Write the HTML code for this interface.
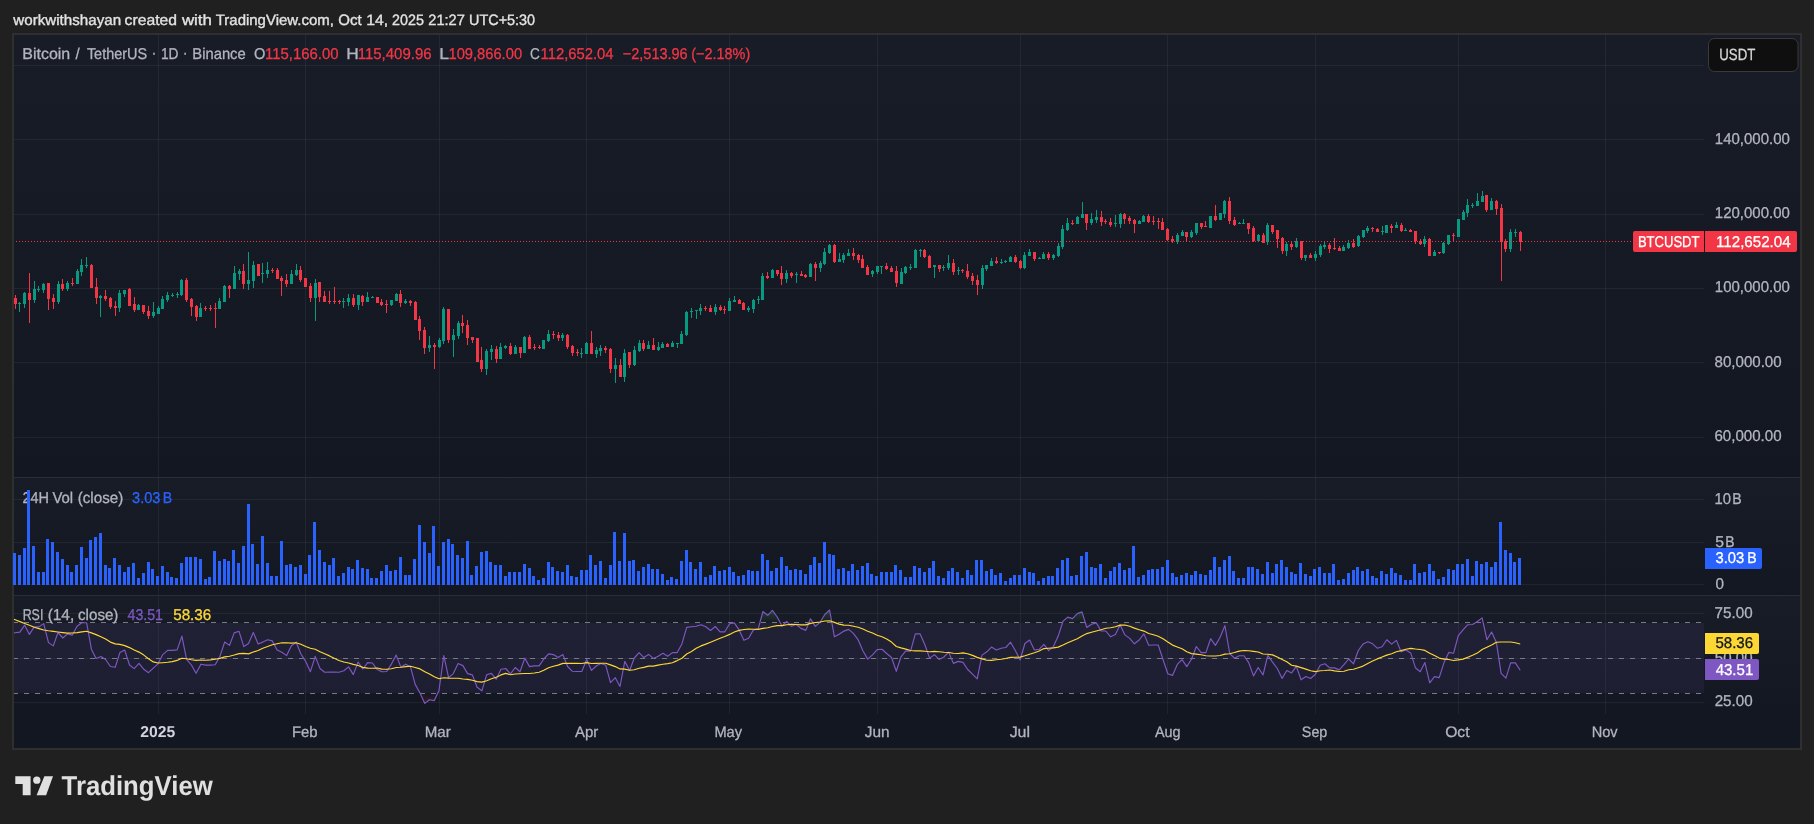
<!DOCTYPE html>
<html><head><meta charset="utf-8"><title>BTCUSDT chart</title>
<style>
html,body{margin:0;padding:0;background:#202020;width:1814px;height:824px;overflow:hidden}
svg{display:block;will-change:transform;text-rendering:geometricPrecision}
text{font-family:'Liberation Sans', sans-serif;}
</style></head><body>
<svg width="1814" height="824" viewBox="0 0 1814 824" shape-rendering="crispEdges">
<defs><linearGradient id="pg" x1="0" y1="0" x2="0" y2="1"><stop offset="0" stop-color="#181c27"/><stop offset="1" stop-color="#131722"/></linearGradient><linearGradient id="obg" gradientUnits="userSpaceOnUse" x1="0" y1="569.90" x2="0" y2="623.00"><stop offset="0" stop-color="#4caf50" stop-opacity="1"/><stop offset="1" stop-color="#4caf50" stop-opacity="0"/></linearGradient><linearGradient id="osg" gradientUnits="userSpaceOnUse" x1="0" y1="693.80" x2="0" y2="746.90"><stop offset="0" stop-color="#f23645" stop-opacity="0"/><stop offset="1" stop-color="#f23645" stop-opacity="1"/></linearGradient><clipPath id="obc"><rect x="0" y="0" width="1814" height="623.00"/></clipPath><clipPath id="osc"><rect x="0" y="693.80" width="1814" height="200"/></clipPath><clipPath id="rc"><rect x="14" y="596" width="1690" height="118"/></clipPath></defs>
<rect x="0" y="0" width="1814" height="824" fill="#202020"/>
<rect x="12" y="33" width="1790" height="717" fill="#2f2f2f"/>
<rect x="14" y="35" width="1786" height="713" fill="#131722"/>
<rect x="14" y="35" width="1786" height="442" fill="url(#pg)"/>
<rect x="14" y="478" width="1786" height="117" fill="url(#pg)"/>
<rect x="14" y="596" width="1786" height="118" fill="url(#pg)"/>
<rect x="14" y="477" width="1786" height="1" fill="#2a2e39"/>
<rect x="14" y="595" width="1786" height="1" fill="#2a2e39"/>
<rect x="14" y="65" width="1690" height="1" fill="rgba(240,243,250,0.06)"/>
<rect x="14" y="139" width="1690" height="1" fill="rgba(240,243,250,0.06)"/>
<rect x="14" y="214" width="1690" height="1" fill="rgba(240,243,250,0.06)"/>
<rect x="14" y="288" width="1690" height="1" fill="rgba(240,243,250,0.06)"/>
<rect x="14" y="362" width="1690" height="1" fill="rgba(240,243,250,0.06)"/>
<rect x="14" y="437" width="1690" height="1" fill="rgba(240,243,250,0.06)"/>
<rect x="14" y="499" width="1690" height="1" fill="rgba(240,243,250,0.06)"/>
<rect x="14" y="542" width="1690" height="1" fill="rgba(240,243,250,0.06)"/>
<rect x="14" y="584" width="1690" height="1" fill="rgba(240,243,250,0.06)"/>
<rect x="14" y="613" width="1690" height="1" fill="rgba(240,243,250,0.06)"/>
<rect x="14" y="658" width="1690" height="1" fill="rgba(240,243,250,0.06)"/>
<rect x="14" y="702" width="1690" height="1" fill="rgba(240,243,250,0.06)"/>
<rect x="158" y="35" width="1" height="442" fill="rgba(240,243,250,0.06)"/>
<rect x="158" y="478" width="1" height="117" fill="rgba(240,243,250,0.06)"/>
<rect x="158" y="596" width="1" height="118" fill="rgba(240,243,250,0.06)"/>
<rect x="305" y="35" width="1" height="442" fill="rgba(240,243,250,0.06)"/>
<rect x="305" y="478" width="1" height="117" fill="rgba(240,243,250,0.06)"/>
<rect x="305" y="596" width="1" height="118" fill="rgba(240,243,250,0.06)"/>
<rect x="439" y="35" width="1" height="442" fill="rgba(240,243,250,0.06)"/>
<rect x="439" y="478" width="1" height="117" fill="rgba(240,243,250,0.06)"/>
<rect x="439" y="596" width="1" height="118" fill="rgba(240,243,250,0.06)"/>
<rect x="586" y="35" width="1" height="442" fill="rgba(240,243,250,0.06)"/>
<rect x="586" y="478" width="1" height="117" fill="rgba(240,243,250,0.06)"/>
<rect x="586" y="596" width="1" height="118" fill="rgba(240,243,250,0.06)"/>
<rect x="729" y="35" width="1" height="442" fill="rgba(240,243,250,0.06)"/>
<rect x="729" y="478" width="1" height="117" fill="rgba(240,243,250,0.06)"/>
<rect x="729" y="596" width="1" height="118" fill="rgba(240,243,250,0.06)"/>
<rect x="877" y="35" width="1" height="442" fill="rgba(240,243,250,0.06)"/>
<rect x="877" y="478" width="1" height="117" fill="rgba(240,243,250,0.06)"/>
<rect x="877" y="596" width="1" height="118" fill="rgba(240,243,250,0.06)"/>
<rect x="1020" y="35" width="1" height="442" fill="rgba(240,243,250,0.06)"/>
<rect x="1020" y="478" width="1" height="117" fill="rgba(240,243,250,0.06)"/>
<rect x="1020" y="596" width="1" height="118" fill="rgba(240,243,250,0.06)"/>
<rect x="1167" y="35" width="1" height="442" fill="rgba(240,243,250,0.06)"/>
<rect x="1167" y="478" width="1" height="117" fill="rgba(240,243,250,0.06)"/>
<rect x="1167" y="596" width="1" height="118" fill="rgba(240,243,250,0.06)"/>
<rect x="1315" y="35" width="1" height="442" fill="rgba(240,243,250,0.06)"/>
<rect x="1315" y="478" width="1" height="117" fill="rgba(240,243,250,0.06)"/>
<rect x="1315" y="596" width="1" height="118" fill="rgba(240,243,250,0.06)"/>
<rect x="1458" y="35" width="1" height="442" fill="rgba(240,243,250,0.06)"/>
<rect x="1458" y="478" width="1" height="117" fill="rgba(240,243,250,0.06)"/>
<rect x="1458" y="596" width="1" height="118" fill="rgba(240,243,250,0.06)"/>
<rect x="1605" y="35" width="1" height="442" fill="rgba(240,243,250,0.06)"/>
<rect x="1605" y="478" width="1" height="117" fill="rgba(240,243,250,0.06)"/>
<rect x="1605" y="596" width="1" height="118" fill="rgba(240,243,250,0.06)"/>
<rect x="14" y="622.6" width="1690" height="70.8" fill="rgba(126,87,194,0.1)"/>
<line x1="14" y1="622.5" x2="1704" y2="622.5" stroke="#787b86" stroke-width="1" stroke-dasharray="5 6" stroke-dashoffset="1"/>
<line x1="14" y1="658.5" x2="1704" y2="658.5" stroke="#787b86" stroke-width="1" stroke-dasharray="5 6" stroke-dashoffset="1"/>
<line x1="14" y1="693.5" x2="1704" y2="693.5" stroke="#787b86" stroke-width="1" stroke-dasharray="5 6" stroke-dashoffset="1"/>
<path d="M19,302h1v10h-1z M18,303h3v1h-3z M24,292h1v16h-1z M23,293h3v11h-3z M34,281h1v22h-1z M33,289h3v11h-3z M38,286h1v6h-1z M37,289h3v1h-3z M43,283h1v10h-1z M42,284h3v6h-3z M58,281h1v23h-1z M57,284h3v18h-3z M67,281h1v10h-1z M66,283h3v6h-3z M77,269h1v15h-1z M76,271h3v13h-3z M81,259h1v17h-1z M80,265h3v7h-3z M86,257h1v11h-1z M85,265h3v1h-3z M100,295h1v22h-1z M99,296h3v2h-3z M119,290h1v22h-1z M118,293h3v15h-3z M124,290h1v7h-1z M123,290h3v4h-3z M138,304h1v6h-1z M137,305h3v5h-3z M153,302h1v16h-1z M152,312h3v4h-3z M158,306h1v8h-1z M157,308h3v6h-3z M162,296h1v13h-1z M161,299h3v10h-3z M167,292h1v10h-1z M166,295h3v5h-3z M172,293h1v4h-1z M171,295h3v1h-3z M177,292h1v6h-1z M176,294h3v1h-3z M181,279h1v17h-1z M180,280h3v15h-3z M200,303h1v14h-1z M199,308h3v9h-3z M219,298h1v11h-1z M218,301h3v8h-3z M224,285h1v17h-1z M223,286h3v16h-3z M234,266h1v23h-1z M233,273h3v16h-3z M239,269h1v11h-1z M238,271h3v3h-3z M248,252h1v38h-1z M247,280h3v4h-3z M253,261h1v27h-1z M252,265h3v16h-3z M262,263h1v20h-1z M261,273h3v1h-3z M267,262h1v16h-1z M266,270h3v4h-3z M291,270h1v14h-1z M290,274h3v10h-3z M296,264h1v12h-1z M295,270h3v5h-3z M315,279h1v42h-1z M314,283h3v15h-3z M343,298h1v10h-1z M342,301h3v1h-3z M348,294h1v12h-1z M347,298h3v4h-3z M358,295h1v15h-1z M357,295h3v10h-3z M367,292h1v10h-1z M366,297h3v5h-3z M372,296h1v2h-1z M371,297h3v1h-3z M391,300h1v6h-1z M390,300h3v5h-3z M396,293h1v8h-1z M395,294h3v7h-3z M405,299h1v5h-1z M404,301h3v2h-3z M429,336h1v16h-1z M428,345h3v3h-3z M439,338h1v10h-1z M438,340h3v7h-3z M443,307h1v37h-1z M442,309h3v32h-3z M453,329h1v28h-1z M452,335h3v5h-3z M458,321h1v18h-1z M457,323h3v13h-3z M486,349h1v26h-1z M485,351h3v18h-3z M491,345h1v15h-1z M490,349h3v3h-3z M500,343h1v16h-1z M499,347h3v12h-3z M505,345h1v4h-1z M504,346h3v2h-3z M515,345h1v9h-1z M514,347h3v7h-3z M524,336h1v17h-1z M523,337h3v16h-3z M543,340h1v9h-1z M542,340h3v9h-3z M548,330h1v12h-1z M547,334h3v7h-3z M562,333h1v8h-1z M561,335h3v3h-3z M581,348h1v10h-1z M580,353h3v1h-3z M586,342h1v12h-1z M585,343h3v11h-3z M596,347h1v11h-1z M595,350h3v4h-3z M600,345h1v11h-1z M599,348h3v3h-3z M615,358h1v25h-1z M614,365h3v4h-3z M624,349h1v33h-1z M623,353h3v24h-3z M634,346h1v20h-1z M633,350h3v15h-3z M639,340h1v12h-1z M638,343h3v8h-3z M648,341h1v8h-1z M647,345h3v4h-3z M658,342h1v9h-1z M657,347h3v3h-3z M662,342h1v6h-1z M661,344h3v4h-3z M672,341h1v6h-1z M671,343h3v4h-3z M677,343h1v5h-1z M676,343h3v1h-3z M681,331h1v13h-1z M680,334h3v10h-3z M686,311h1v25h-1z M685,312h3v23h-3z M691,308h1v10h-1z M690,311h3v1h-3z M696,310h1v9h-1z M695,310h3v1h-3z M700,304h1v11h-1z M699,308h3v3h-3z M715,304h1v11h-1z M714,307h3v5h-3z M729,298h1v13h-1z M728,301h3v10h-3z M734,296h1v6h-1z M733,300h3v2h-3z M748,306h1v6h-1z M747,308h3v2h-3z M753,299h1v14h-1z M752,300h3v9h-3z M758,296h1v8h-1z M757,299h3v1h-3z M762,273h1v27h-1z M761,276h3v24h-3z M772,269h1v9h-1z M771,270h3v8h-3z M786,270h1v13h-1z M785,273h3v6h-3z M796,272h1v11h-1z M795,274h3v1h-3z M810,263h1v14h-1z M809,264h3v13h-3z M820,261h1v11h-1z M819,263h3v5h-3z M824,248h1v17h-1z M823,252h3v12h-3z M829,244h1v10h-1z M828,245h3v8h-3z M839,253h1v9h-1z M838,259h3v3h-3z M843,253h1v10h-1z M842,255h3v5h-3z M848,249h1v7h-1z M847,253h3v3h-3z M872,270h1v7h-1z M871,271h3v3h-3z M877,266h1v8h-1z M876,266h3v6h-3z M881,266h1v8h-1z M880,266h3v1h-3z M901,268h1v16h-1z M900,272h3v12h-3z M905,266h1v8h-1z M904,267h3v6h-3z M910,264h1v6h-1z M909,267h3v1h-3z M915,249h1v19h-1z M914,250h3v18h-3z M920,249h1v8h-1z M919,250h3v1h-3z M934,265h1v13h-1z M933,265h3v2h-3z M943,265h1v6h-1z M942,267h3v1h-3z M948,255h1v15h-1z M947,263h3v5h-3z M958,267h1v8h-1z M957,270h3v1h-3z M982,265h1v24h-1z M981,268h3v17h-3z M986,265h1v6h-1z M985,265h3v4h-3z M991,258h1v8h-1z M990,261h3v5h-3z M1001,259h1v5h-1z M1000,262h3v1h-3z M1005,260h1v3h-1z M1004,261h3v1h-3z M1010,256h1v6h-1z M1009,257h3v5h-3z M1024,252h1v17h-1z M1023,255h3v13h-3z M1029,249h1v7h-1z M1028,252h3v4h-3z M1039,257h1v2h-1z M1038,258h3v1h-3z M1043,252h1v7h-1z M1042,254h3v5h-3z M1053,254h1v6h-1z M1052,255h3v3h-3z M1058,243h1v14h-1z M1057,246h3v10h-3z M1062,225h1v24h-1z M1061,229h3v18h-3z M1067,218h1v13h-1z M1066,223h3v7h-3z M1077,216h1v8h-1z M1076,217h3v7h-3z M1082,202h1v16h-1z M1081,214h3v4h-3z M1091,213h1v12h-1z M1090,219h3v4h-3z M1096,210h1v13h-1z M1095,217h3v3h-3z M1115,215h1v12h-1z M1114,223h3v1h-3z M1120,213h1v15h-1z M1119,214h3v10h-3z M1139,220h1v4h-1z M1138,221h3v3h-3z M1143,215h1v7h-1z M1142,216h3v6h-3z M1177,233h1v11h-1z M1176,235h3v7h-3z M1182,230h1v6h-1z M1181,232h3v4h-3z M1191,230h1v8h-1z M1190,232h3v5h-3z M1196,223h1v12h-1z M1195,223h3v10h-3z M1210,216h1v12h-1z M1209,216h3v12h-3z M1220,213h1v7h-1z M1219,213h3v7h-3z M1224,200h1v18h-1z M1223,201h3v13h-3z M1239,222h1v2h-1z M1238,223h3v1h-3z M1243,219h1v5h-1z M1242,223h3v1h-3z M1258,234h1v7h-1z M1257,235h3v6h-3z M1267,223h1v22h-1z M1266,225h3v17h-3z M1286,242h1v14h-1z M1285,244h3v7h-3z M1296,238h1v10h-1z M1295,241h3v6h-3z M1305,255h1v6h-1z M1304,255h3v3h-3z M1315,251h1v10h-1z M1314,254h3v4h-3z M1320,244h1v13h-1z M1319,246h3v9h-3z M1324,242h1v7h-1z M1323,245h3v2h-3z M1343,245h1v6h-1z M1342,247h3v4h-3z M1348,240h1v9h-1z M1347,243h3v5h-3z M1358,235h1v12h-1z M1357,236h3v10h-3z M1363,230h1v8h-1z M1362,230h3v7h-3z M1367,226h1v7h-1z M1366,228h3v3h-3z M1382,226h1v9h-1z M1381,231h3v1h-3z M1386,225h1v8h-1z M1385,225h3v8h-3z M1396,222h1v6h-1z M1395,225h3v3h-3z M1405,228h1v3h-1z M1404,230h3v1h-3z M1424,236h1v11h-1z M1423,239h3v5h-3z M1434,250h1v6h-1z M1433,252h3v4h-3z M1443,242h1v12h-1z M1442,243h3v10h-3z M1448,235h1v10h-1z M1447,235h3v9h-3z M1458,219h1v18h-1z M1457,219h3v18h-3z M1463,210h1v10h-1z M1462,212h3v8h-3z M1467,199h1v18h-1z M1466,205h3v8h-3z M1472,203h1v5h-1z M1471,205h3v1h-3z M1477,193h1v13h-1z M1476,201h3v5h-3z M1482,191h1v11h-1z M1481,196h3v6h-3z M1491,198h1v12h-1z M1490,201h3v9h-3z M1510,229h1v23h-1z M1509,232h3v17h-3z M1515,229h1v8h-1z M1514,232h3v1h-3z" fill="#089981"/>
<path d="M15,295h1v14h-1z M14,298h3v6h-3z M29,273h1v50h-1z M28,293h3v7h-3z M48,283h1v27h-1z M47,283h3v16h-3z M53,294h1v15h-1z M52,298h3v4h-3z M62,279h1v12h-1z M61,284h3v5h-3z M72,278h1v8h-1z M71,283h3v1h-3z M91,264h1v24h-1z M90,265h3v23h-3z M96,278h1v26h-1z M95,287h3v11h-3z M105,290h1v11h-1z M104,296h3v3h-3z M110,297h1v12h-1z M109,298h3v9h-3z M115,301h1v15h-1z M114,306h3v2h-3z M129,288h1v18h-1z M128,289h3v17h-3z M134,297h1v15h-1z M133,304h3v6h-3z M143,305h1v9h-1z M142,305h3v7h-3z M148,306h1v13h-1z M147,311h3v5h-3z M186,278h1v24h-1z M185,280h3v20h-3z M191,298h1v18h-1z M190,299h3v8h-3z M196,305h1v16h-1z M195,306h3v11h-3z M205,306h1v5h-1z M204,308h3v1h-3z M210,305h1v6h-1z M209,308h3v1h-3z M215,303h1v25h-1z M214,308h3v1h-3z M229,285h1v13h-1z M228,286h3v3h-3z M243,264h1v25h-1z M242,271h3v13h-3z M258,264h1v12h-1z M257,264h3v12h-3z M272,268h1v5h-1z M271,270h3v1h-3z M277,268h1v11h-1z M276,270h3v9h-3z M281,276h1v20h-1z M280,278h3v3h-3z M286,274h1v13h-1z M285,280h3v4h-3z M300,266h1v16h-1z M299,270h3v10h-3z M305,278h1v9h-1z M304,278h3v9h-3z M310,283h1v19h-1z M309,286h3v12h-3z M319,282h1v20h-1z M318,282h3v15h-3z M324,291h1v11h-1z M323,296h3v6h-3z M329,291h1v13h-1z M328,301h3v1h-3z M334,287h1v17h-1z M333,301h3v1h-3z M339,300h1v4h-1z M338,301h3v1h-3z M353,294h1v13h-1z M352,298h3v7h-3z M362,295h1v11h-1z M361,296h3v6h-3z M377,297h1v6h-1z M376,297h3v6h-3z M381,299h1v7h-1z M380,302h3v3h-3z M386,300h1v13h-1z M385,304h3v1h-3z M400,290h1v17h-1z M399,294h3v9h-3z M410,300h1v6h-1z M409,301h3v2h-3z M415,301h1v19h-1z M414,302h3v18h-3z M419,316h1v24h-1z M418,319h3v12h-3z M424,327h1v27h-1z M423,330h3v18h-3z M434,343h1v26h-1z M433,345h3v2h-3z M448,309h1v34h-1z M447,309h3v31h-3z M462,315h1v18h-1z M461,323h3v3h-3z M467,320h1v25h-1z M466,325h3v13h-3z M472,337h1v6h-1z M471,337h3v3h-3z M477,338h1v24h-1z M476,338h3v24h-3z M481,347h1v25h-1z M480,360h3v9h-3z M496,346h1v17h-1z M495,349h3v10h-3z M510,343h1v12h-1z M509,346h3v8h-3z M520,347h1v11h-1z M519,347h3v6h-3z M529,335h1v14h-1z M528,337h3v12h-3z M534,344h1v6h-1z M533,347h3v1h-3z M539,345h1v4h-1z M538,347h3v1h-3z M553,331h1v8h-1z M552,334h3v1h-3z M558,332h1v9h-1z M557,335h3v3h-3z M567,334h1v15h-1z M566,335h3v12h-3z M572,345h1v11h-1z M571,346h3v7h-3z M577,349h1v7h-1z M576,352h3v1h-3z M591,331h1v23h-1z M590,343h3v11h-3z M605,346h1v7h-1z M604,348h3v2h-3z M610,348h1v25h-1z M609,349h3v20h-3z M620,359h1v18h-1z M619,365h3v12h-3z M629,352h1v16h-1z M628,352h3v13h-3z M643,340h1v11h-1z M642,343h3v6h-3z M653,338h1v12h-1z M652,345h3v5h-3z M667,343h1v4h-1z M666,344h3v3h-3z M705,306h1v5h-1z M704,308h3v1h-3z M710,305h1v7h-1z M709,308h3v4h-3z M720,305h1v6h-1z M719,307h3v3h-3z M724,306h1v8h-1z M723,309h3v1h-3z M739,299h1v5h-1z M738,300h3v4h-3z M743,302h1v8h-1z M742,303h3v7h-3z M767,272h1v7h-1z M766,276h3v2h-3z M777,270h1v6h-1z M776,270h3v4h-3z M781,266h1v19h-1z M780,273h3v6h-3z M791,272h1v6h-1z M790,273h3v3h-3z M801,271h1v5h-1z M800,274h3v2h-3z M805,274h1v4h-1z M804,275h3v2h-3z M815,262h1v19h-1z M814,264h3v4h-3z M834,244h1v19h-1z M833,245h3v17h-3z M853,248h1v12h-1z M852,253h3v3h-3z M858,254h1v9h-1z M857,255h3v5h-3z M862,255h1v13h-1z M861,259h3v9h-3z M867,265h1v10h-1z M866,267h3v8h-3z M886,263h1v7h-1z M885,266h3v3h-3z M891,266h1v6h-1z M890,268h3v4h-3z M896,266h1v21h-1z M895,271h3v12h-3z M924,249h1v9h-1z M923,250h3v7h-3z M929,255h1v13h-1z M928,256h3v12h-3z M939,265h1v7h-1z M938,265h3v4h-3z M953,259h1v16h-1z M952,263h3v9h-3z M962,269h1v4h-1z M961,270h3v1h-3z M967,264h1v15h-1z M966,271h3v6h-3z M972,273h1v12h-1z M971,276h3v5h-3z M977,275h1v20h-1z M976,280h3v5h-3z M996,257h1v7h-1z M995,261h3v2h-3z M1015,255h1v8h-1z M1014,257h3v5h-3z M1020,260h1v9h-1z M1019,261h3v7h-3z M1034,252h1v9h-1z M1033,252h3v7h-3z M1048,252h1v8h-1z M1047,254h3v4h-3z M1072,220h1v5h-1z M1071,223h3v1h-3z M1086,214h1v16h-1z M1085,214h3v9h-3z M1101,211h1v15h-1z M1100,217h3v5h-3z M1105,219h1v5h-1z M1104,221h3v1h-3z M1110,218h1v9h-1z M1109,222h3v3h-3z M1124,213h1v11h-1z M1123,214h3v5h-3z M1129,216h1v8h-1z M1128,218h3v3h-3z M1134,219h1v14h-1z M1133,220h3v4h-3z M1148,214h1v9h-1z M1147,216h3v6h-3z M1153,216h1v9h-1z M1152,221h3v1h-3z M1158,218h1v11h-1z M1157,221h3v1h-3z M1162,218h1v12h-1z M1161,222h3v8h-3z M1167,228h1v13h-1z M1166,229h3v11h-3z M1172,236h1v7h-1z M1171,239h3v2h-3z M1186,232h1v10h-1z M1185,232h3v5h-3z M1201,223h1v6h-1z M1200,223h3v4h-3z M1205,221h1v6h-1z M1204,226h3v1h-3z M1215,205h1v16h-1z M1214,216h3v4h-3z M1229,197h1v27h-1z M1228,201h3v20h-3z M1234,217h1v9h-1z M1233,220h3v5h-3z M1248,223h1v11h-1z M1247,223h3v6h-3z M1253,226h1v16h-1z M1252,228h3v13h-3z M1263,233h1v10h-1z M1262,235h3v8h-3z M1272,225h1v9h-1z M1271,225h3v7h-3z M1277,230h1v18h-1z M1276,230h3v9h-3z M1282,237h1v17h-1z M1281,238h3v13h-3z M1291,241h1v9h-1z M1290,244h3v3h-3z M1301,241h1v19h-1z M1300,241h3v17h-3z M1310,253h1v5h-1z M1309,255h3v3h-3z M1329,243h1v10h-1z M1328,245h3v4h-3z M1334,238h1v12h-1z M1333,248h3v1h-3z M1339,246h1v5h-1z M1338,248h3v3h-3z M1353,239h1v9h-1z M1352,243h3v4h-3z M1372,227h1v5h-1z M1371,228h3v1h-3z M1377,228h1v4h-1z M1376,229h3v3h-3z M1391,224h1v9h-1z M1390,226h3v2h-3z M1401,223h1v9h-1z M1400,225h3v6h-3z M1410,229h1v3h-1z M1409,230h3v2h-3z M1415,231h1v13h-1z M1414,231h3v10h-3z M1420,239h1v6h-1z M1419,241h3v3h-3z M1429,238h1v18h-1z M1428,239h3v17h-3z M1439,252h1v2h-1z M1438,252h3v1h-3z M1453,233h1v9h-1z M1452,235h3v1h-3z M1486,195h1v17h-1z M1485,195h3v15h-3z M1496,200h1v15h-1z M1495,201h3v8h-3z M1501,204h1v77h-1z M1500,208h3v34h-3z M1505,239h1v13h-1z M1504,241h3v8h-3z M1520,231h1v20h-1z M1519,232h3v10h-3z" fill="#f23645"/>
<line x1="14" y1="241.5" x2="1633" y2="241.5" stroke="#f23645" stroke-width="1" stroke-dasharray="1 2" stroke-dashoffset="1"/>
<g clip-path="url(#rc)" shape-rendering="geometricPrecision"><polygon points="10.4,623.00 10.4,633.3 15.2,632.8 19.9,632.1 24.7,625.2 29.4,634.4 34.2,626.9 39.0,626.9 43.7,623.6 48.5,642.6 53.3,645.9 58.0,632.5 62.8,638.0 67.5,633.9 72.3,635.1 77.1,626.2 81.8,622.7 86.6,622.7 91.4,649.2 96.1,658.5 100.9,656.5 105.6,659.5 110.4,666.5 115.2,667.3 119.9,652.6 124.7,650.1 129.5,665.0 134.2,668.6 139.0,663.3 143.8,669.3 148.5,672.7 153.3,668.1 158.0,663.8 162.8,654.6 167.6,650.4 172.3,650.4 177.1,649.9 181.9,636.1 186.6,659.3 191.4,665.0 196.1,673.3 200.9,664.2 205.7,665.1 210.4,665.1 215.2,664.8 220.0,656.1 224.7,642.0 229.5,645.4 234.2,632.9 239.0,631.3 243.8,646.6 248.5,643.4 253.3,632.4 258.1,644.0 262.8,642.1 267.6,639.8 272.3,640.9 277.1,650.1 281.9,652.3 286.6,655.6 291.4,645.7 296.2,642.2 300.9,654.0 305.7,661.4 310.4,671.7 315.2,656.4 320.0,668.5 324.7,672.3 329.5,672.1 334.3,672.1 339.0,672.3 343.8,670.8 348.6,666.9 353.3,674.6 358.1,662.0 362.8,669.0 367.6,662.6 372.4,663.0 377.1,669.4 381.9,671.8 386.7,671.5 391.4,664.1 396.2,655.1 400.9,667.1 405.7,664.2 410.5,666.8 415.2,684.4 420.0,693.0 424.8,703.4 429.5,699.7 434.3,700.6 439.0,690.4 443.8,655.5 448.6,677.6 453.3,673.6 458.1,663.5 462.9,665.6 467.6,673.6 472.4,674.9 477.1,687.2 481.9,690.8 486.7,674.7 491.4,673.4 496.2,679.2 501.0,669.2 505.7,668.5 510.5,673.9 515.2,667.5 520.0,671.8 524.8,658.1 529.5,666.6 534.3,665.9 539.1,665.9 543.8,659.0 548.6,653.9 553.4,654.6 558.1,657.6 562.9,654.6 567.6,666.5 572.4,671.3 577.2,671.5 581.9,671.4 586.7,659.5 591.5,670.4 596.2,666.0 601.0,663.5 605.7,665.2 610.5,682.7 615.3,677.7 620.0,686.5 624.8,661.3 629.6,670.5 634.3,658.0 639.1,652.7 643.8,657.6 648.6,654.4 653.4,658.4 658.1,656.3 662.9,653.3 667.7,656.3 672.4,652.6 677.2,652.6 681.9,643.9 686.7,627.4 691.5,626.7 696.2,626.3 701.0,624.7 705.8,626.7 710.5,630.5 715.3,626.5 720.1,631.8 724.8,631.8 729.6,623.8 734.3,622.9 739.1,629.9 743.9,640.3 748.6,638.2 753.4,629.9 758.2,628.9 762.9,611.5 767.7,615.3 772.4,610.3 777.2,617.0 782.0,626.1 786.7,621.4 791.5,626.3 796.3,624.5 801.0,628.4 805.8,630.4 810.5,618.8 815.3,626.4 820.1,622.3 824.8,614.5 829.6,610.0 834.4,636.8 839.1,634.3 843.9,631.1 848.6,629.4 853.4,633.4 858.2,639.9 862.9,650.8 867.7,659.1 872.5,654.9 877.2,649.6 882.0,649.3 886.7,653.5 891.5,657.5 896.3,671.3 901.0,656.8 905.8,650.9 910.6,651.2 915.3,633.9 920.1,633.9 924.9,644.7 929.6,658.1 934.4,654.7 939.1,659.4 943.9,657.0 948.7,652.2 953.4,663.4 958.2,661.4 963.0,662.4 967.7,669.5 972.5,674.2 977.2,678.8 982.0,655.1 986.8,651.8 991.5,647.1 996.3,650.0 1001.1,648.3 1005.8,647.5 1010.6,642.2 1015.3,650.5 1020.1,660.0 1024.9,643.5 1029.6,640.0 1034.4,650.0 1039.2,649.4 1043.9,644.4 1048.7,650.6 1053.4,646.6 1058.2,636.1 1063.0,621.2 1067.7,617.1 1072.5,618.6 1077.3,613.6 1082.0,611.9 1086.8,627.5 1091.5,624.3 1096.3,622.9 1101.1,631.0 1105.8,631.0 1110.6,636.8 1115.4,634.5 1120.1,624.8 1124.9,634.9 1129.7,638.4 1134.4,643.8 1139.2,640.0 1143.9,633.9 1148.7,645.2 1153.5,645.0 1158.2,645.0 1163.0,659.5 1167.8,673.8 1172.5,675.4 1177.3,664.4 1182.0,659.7 1186.8,666.6 1191.6,659.0 1196.3,646.5 1201.1,652.6 1205.9,652.6 1210.6,638.7 1215.4,645.4 1220.1,637.2 1224.9,625.6 1229.7,653.5 1234.4,658.2 1239.2,655.7 1244.0,655.7 1248.7,662.6 1253.5,675.9 1258.2,667.5 1263.0,675.0 1267.8,655.4 1272.5,662.2 1277.3,668.5 1282.1,678.4 1286.8,670.5 1291.6,672.9 1296.3,666.4 1301.1,679.8 1305.9,676.5 1310.6,678.5 1315.4,674.2 1320.2,665.3 1324.9,663.8 1329.7,667.9 1334.5,667.9 1339.2,669.9 1344.0,664.7 1348.7,659.0 1353.5,663.8 1358.3,650.5 1363.0,644.1 1367.8,641.8 1372.6,643.8 1377.3,648.2 1382.1,646.7 1386.8,639.8 1391.6,644.1 1396.4,640.4 1401.1,651.8 1405.9,650.0 1410.7,652.9 1415.4,667.7 1420.2,671.7 1424.9,662.6 1429.7,682.8 1434.5,676.6 1439.2,677.6 1444.0,662.6 1448.8,652.4 1453.5,653.3 1458.3,635.7 1463.0,629.9 1467.8,624.7 1472.6,624.5 1477.3,621.5 1482.1,617.9 1486.9,639.7 1491.6,632.0 1496.4,642.4 1501.1,673.4 1505.9,678.2 1510.7,662.9 1515.4,662.9 1520.2,670.3 1520.2,623.00" fill="url(#obg)" clip-path="url(#obc)"/><polygon points="10.4,693.80 10.4,633.3 15.2,632.8 19.9,632.1 24.7,625.2 29.4,634.4 34.2,626.9 39.0,626.9 43.7,623.6 48.5,642.6 53.3,645.9 58.0,632.5 62.8,638.0 67.5,633.9 72.3,635.1 77.1,626.2 81.8,622.7 86.6,622.7 91.4,649.2 96.1,658.5 100.9,656.5 105.6,659.5 110.4,666.5 115.2,667.3 119.9,652.6 124.7,650.1 129.5,665.0 134.2,668.6 139.0,663.3 143.8,669.3 148.5,672.7 153.3,668.1 158.0,663.8 162.8,654.6 167.6,650.4 172.3,650.4 177.1,649.9 181.9,636.1 186.6,659.3 191.4,665.0 196.1,673.3 200.9,664.2 205.7,665.1 210.4,665.1 215.2,664.8 220.0,656.1 224.7,642.0 229.5,645.4 234.2,632.9 239.0,631.3 243.8,646.6 248.5,643.4 253.3,632.4 258.1,644.0 262.8,642.1 267.6,639.8 272.3,640.9 277.1,650.1 281.9,652.3 286.6,655.6 291.4,645.7 296.2,642.2 300.9,654.0 305.7,661.4 310.4,671.7 315.2,656.4 320.0,668.5 324.7,672.3 329.5,672.1 334.3,672.1 339.0,672.3 343.8,670.8 348.6,666.9 353.3,674.6 358.1,662.0 362.8,669.0 367.6,662.6 372.4,663.0 377.1,669.4 381.9,671.8 386.7,671.5 391.4,664.1 396.2,655.1 400.9,667.1 405.7,664.2 410.5,666.8 415.2,684.4 420.0,693.0 424.8,703.4 429.5,699.7 434.3,700.6 439.0,690.4 443.8,655.5 448.6,677.6 453.3,673.6 458.1,663.5 462.9,665.6 467.6,673.6 472.4,674.9 477.1,687.2 481.9,690.8 486.7,674.7 491.4,673.4 496.2,679.2 501.0,669.2 505.7,668.5 510.5,673.9 515.2,667.5 520.0,671.8 524.8,658.1 529.5,666.6 534.3,665.9 539.1,665.9 543.8,659.0 548.6,653.9 553.4,654.6 558.1,657.6 562.9,654.6 567.6,666.5 572.4,671.3 577.2,671.5 581.9,671.4 586.7,659.5 591.5,670.4 596.2,666.0 601.0,663.5 605.7,665.2 610.5,682.7 615.3,677.7 620.0,686.5 624.8,661.3 629.6,670.5 634.3,658.0 639.1,652.7 643.8,657.6 648.6,654.4 653.4,658.4 658.1,656.3 662.9,653.3 667.7,656.3 672.4,652.6 677.2,652.6 681.9,643.9 686.7,627.4 691.5,626.7 696.2,626.3 701.0,624.7 705.8,626.7 710.5,630.5 715.3,626.5 720.1,631.8 724.8,631.8 729.6,623.8 734.3,622.9 739.1,629.9 743.9,640.3 748.6,638.2 753.4,629.9 758.2,628.9 762.9,611.5 767.7,615.3 772.4,610.3 777.2,617.0 782.0,626.1 786.7,621.4 791.5,626.3 796.3,624.5 801.0,628.4 805.8,630.4 810.5,618.8 815.3,626.4 820.1,622.3 824.8,614.5 829.6,610.0 834.4,636.8 839.1,634.3 843.9,631.1 848.6,629.4 853.4,633.4 858.2,639.9 862.9,650.8 867.7,659.1 872.5,654.9 877.2,649.6 882.0,649.3 886.7,653.5 891.5,657.5 896.3,671.3 901.0,656.8 905.8,650.9 910.6,651.2 915.3,633.9 920.1,633.9 924.9,644.7 929.6,658.1 934.4,654.7 939.1,659.4 943.9,657.0 948.7,652.2 953.4,663.4 958.2,661.4 963.0,662.4 967.7,669.5 972.5,674.2 977.2,678.8 982.0,655.1 986.8,651.8 991.5,647.1 996.3,650.0 1001.1,648.3 1005.8,647.5 1010.6,642.2 1015.3,650.5 1020.1,660.0 1024.9,643.5 1029.6,640.0 1034.4,650.0 1039.2,649.4 1043.9,644.4 1048.7,650.6 1053.4,646.6 1058.2,636.1 1063.0,621.2 1067.7,617.1 1072.5,618.6 1077.3,613.6 1082.0,611.9 1086.8,627.5 1091.5,624.3 1096.3,622.9 1101.1,631.0 1105.8,631.0 1110.6,636.8 1115.4,634.5 1120.1,624.8 1124.9,634.9 1129.7,638.4 1134.4,643.8 1139.2,640.0 1143.9,633.9 1148.7,645.2 1153.5,645.0 1158.2,645.0 1163.0,659.5 1167.8,673.8 1172.5,675.4 1177.3,664.4 1182.0,659.7 1186.8,666.6 1191.6,659.0 1196.3,646.5 1201.1,652.6 1205.9,652.6 1210.6,638.7 1215.4,645.4 1220.1,637.2 1224.9,625.6 1229.7,653.5 1234.4,658.2 1239.2,655.7 1244.0,655.7 1248.7,662.6 1253.5,675.9 1258.2,667.5 1263.0,675.0 1267.8,655.4 1272.5,662.2 1277.3,668.5 1282.1,678.4 1286.8,670.5 1291.6,672.9 1296.3,666.4 1301.1,679.8 1305.9,676.5 1310.6,678.5 1315.4,674.2 1320.2,665.3 1324.9,663.8 1329.7,667.9 1334.5,667.9 1339.2,669.9 1344.0,664.7 1348.7,659.0 1353.5,663.8 1358.3,650.5 1363.0,644.1 1367.8,641.8 1372.6,643.8 1377.3,648.2 1382.1,646.7 1386.8,639.8 1391.6,644.1 1396.4,640.4 1401.1,651.8 1405.9,650.0 1410.7,652.9 1415.4,667.7 1420.2,671.7 1424.9,662.6 1429.7,682.8 1434.5,676.6 1439.2,677.6 1444.0,662.6 1448.8,652.4 1453.5,653.3 1458.3,635.7 1463.0,629.9 1467.8,624.7 1472.6,624.5 1477.3,621.5 1482.1,617.9 1486.9,639.7 1491.6,632.0 1496.4,642.4 1501.1,673.4 1505.9,678.2 1510.7,662.9 1515.4,662.9 1520.2,670.3 1520.2,693.80" fill="url(#osg)" clip-path="url(#osc)"/></g>
<g clip-path="url(#rc)"><polyline shape-rendering="geometricPrecision" points="10.4,633.3 15.2,632.8 19.9,632.1 24.7,625.2 29.4,634.4 34.2,626.9 39.0,626.9 43.7,623.6 48.5,642.6 53.3,645.9 58.0,632.5 62.8,638.0 67.5,633.9 72.3,635.1 77.1,626.2 81.8,622.7 86.6,622.7 91.4,649.2 96.1,658.5 100.9,656.5 105.6,659.5 110.4,666.5 115.2,667.3 119.9,652.6 124.7,650.1 129.5,665.0 134.2,668.6 139.0,663.3 143.8,669.3 148.5,672.7 153.3,668.1 158.0,663.8 162.8,654.6 167.6,650.4 172.3,650.4 177.1,649.9 181.9,636.1 186.6,659.3 191.4,665.0 196.1,673.3 200.9,664.2 205.7,665.1 210.4,665.1 215.2,664.8 220.0,656.1 224.7,642.0 229.5,645.4 234.2,632.9 239.0,631.3 243.8,646.6 248.5,643.4 253.3,632.4 258.1,644.0 262.8,642.1 267.6,639.8 272.3,640.9 277.1,650.1 281.9,652.3 286.6,655.6 291.4,645.7 296.2,642.2 300.9,654.0 305.7,661.4 310.4,671.7 315.2,656.4 320.0,668.5 324.7,672.3 329.5,672.1 334.3,672.1 339.0,672.3 343.8,670.8 348.6,666.9 353.3,674.6 358.1,662.0 362.8,669.0 367.6,662.6 372.4,663.0 377.1,669.4 381.9,671.8 386.7,671.5 391.4,664.1 396.2,655.1 400.9,667.1 405.7,664.2 410.5,666.8 415.2,684.4 420.0,693.0 424.8,703.4 429.5,699.7 434.3,700.6 439.0,690.4 443.8,655.5 448.6,677.6 453.3,673.6 458.1,663.5 462.9,665.6 467.6,673.6 472.4,674.9 477.1,687.2 481.9,690.8 486.7,674.7 491.4,673.4 496.2,679.2 501.0,669.2 505.7,668.5 510.5,673.9 515.2,667.5 520.0,671.8 524.8,658.1 529.5,666.6 534.3,665.9 539.1,665.9 543.8,659.0 548.6,653.9 553.4,654.6 558.1,657.6 562.9,654.6 567.6,666.5 572.4,671.3 577.2,671.5 581.9,671.4 586.7,659.5 591.5,670.4 596.2,666.0 601.0,663.5 605.7,665.2 610.5,682.7 615.3,677.7 620.0,686.5 624.8,661.3 629.6,670.5 634.3,658.0 639.1,652.7 643.8,657.6 648.6,654.4 653.4,658.4 658.1,656.3 662.9,653.3 667.7,656.3 672.4,652.6 677.2,652.6 681.9,643.9 686.7,627.4 691.5,626.7 696.2,626.3 701.0,624.7 705.8,626.7 710.5,630.5 715.3,626.5 720.1,631.8 724.8,631.8 729.6,623.8 734.3,622.9 739.1,629.9 743.9,640.3 748.6,638.2 753.4,629.9 758.2,628.9 762.9,611.5 767.7,615.3 772.4,610.3 777.2,617.0 782.0,626.1 786.7,621.4 791.5,626.3 796.3,624.5 801.0,628.4 805.8,630.4 810.5,618.8 815.3,626.4 820.1,622.3 824.8,614.5 829.6,610.0 834.4,636.8 839.1,634.3 843.9,631.1 848.6,629.4 853.4,633.4 858.2,639.9 862.9,650.8 867.7,659.1 872.5,654.9 877.2,649.6 882.0,649.3 886.7,653.5 891.5,657.5 896.3,671.3 901.0,656.8 905.8,650.9 910.6,651.2 915.3,633.9 920.1,633.9 924.9,644.7 929.6,658.1 934.4,654.7 939.1,659.4 943.9,657.0 948.7,652.2 953.4,663.4 958.2,661.4 963.0,662.4 967.7,669.5 972.5,674.2 977.2,678.8 982.0,655.1 986.8,651.8 991.5,647.1 996.3,650.0 1001.1,648.3 1005.8,647.5 1010.6,642.2 1015.3,650.5 1020.1,660.0 1024.9,643.5 1029.6,640.0 1034.4,650.0 1039.2,649.4 1043.9,644.4 1048.7,650.6 1053.4,646.6 1058.2,636.1 1063.0,621.2 1067.7,617.1 1072.5,618.6 1077.3,613.6 1082.0,611.9 1086.8,627.5 1091.5,624.3 1096.3,622.9 1101.1,631.0 1105.8,631.0 1110.6,636.8 1115.4,634.5 1120.1,624.8 1124.9,634.9 1129.7,638.4 1134.4,643.8 1139.2,640.0 1143.9,633.9 1148.7,645.2 1153.5,645.0 1158.2,645.0 1163.0,659.5 1167.8,673.8 1172.5,675.4 1177.3,664.4 1182.0,659.7 1186.8,666.6 1191.6,659.0 1196.3,646.5 1201.1,652.6 1205.9,652.6 1210.6,638.7 1215.4,645.4 1220.1,637.2 1224.9,625.6 1229.7,653.5 1234.4,658.2 1239.2,655.7 1244.0,655.7 1248.7,662.6 1253.5,675.9 1258.2,667.5 1263.0,675.0 1267.8,655.4 1272.5,662.2 1277.3,668.5 1282.1,678.4 1286.8,670.5 1291.6,672.9 1296.3,666.4 1301.1,679.8 1305.9,676.5 1310.6,678.5 1315.4,674.2 1320.2,665.3 1324.9,663.8 1329.7,667.9 1334.5,667.9 1339.2,669.9 1344.0,664.7 1348.7,659.0 1353.5,663.8 1358.3,650.5 1363.0,644.1 1367.8,641.8 1372.6,643.8 1377.3,648.2 1382.1,646.7 1386.8,639.8 1391.6,644.1 1396.4,640.4 1401.1,651.8 1405.9,650.0 1410.7,652.9 1415.4,667.7 1420.2,671.7 1424.9,662.6 1429.7,682.8 1434.5,676.6 1439.2,677.6 1444.0,662.6 1448.8,652.4 1453.5,653.3 1458.3,635.7 1463.0,629.9 1467.8,624.7 1472.6,624.5 1477.3,621.5 1482.1,617.9 1486.9,639.7 1491.6,632.0 1496.4,642.4 1501.1,673.4 1505.9,678.2 1510.7,662.9 1515.4,662.9 1520.2,670.3" fill="none" stroke="#7e57c2" stroke-width="1.15" stroke-linejoin="round"/><polyline shape-rendering="geometricPrecision" points="10.4,618.4 15.2,619.7 19.9,621.6 24.7,623.5 29.4,625.3 34.2,627.2 39.0,628.6 43.7,630.0 48.5,630.8 53.3,631.4 58.0,632.0 62.8,632.6 67.5,633.1 72.3,633.0 77.1,632.6 81.8,631.9 86.6,631.2 91.4,632.9 96.1,634.6 100.9,636.7 105.6,639.1 110.4,642.1 115.2,643.9 119.9,644.4 124.7,645.6 129.5,647.6 134.2,650.0 139.0,652.1 143.8,655.1 148.5,658.7 153.3,661.9 158.0,663.0 162.8,662.7 167.6,662.3 172.3,661.6 177.1,660.4 181.9,658.2 186.6,658.7 191.4,659.8 196.1,660.4 200.9,660.0 205.7,660.2 210.4,659.9 215.2,659.3 220.0,658.4 224.7,656.9 229.5,656.2 234.2,655.0 239.0,653.6 243.8,653.4 248.5,653.9 253.3,652.0 258.1,650.5 262.8,648.2 267.6,646.5 272.3,644.8 277.1,643.7 281.9,642.8 286.6,642.8 291.4,643.1 296.2,642.8 300.9,644.3 305.7,646.5 310.4,648.3 315.2,649.2 320.0,651.8 324.7,653.8 329.5,655.9 334.3,658.3 339.0,660.5 343.8,662.0 348.6,663.0 353.3,664.4 358.1,665.5 362.8,667.4 367.6,668.1 372.4,668.2 377.1,668.0 381.9,669.1 386.7,669.3 391.4,668.7 396.2,667.5 400.9,667.2 405.7,666.6 410.5,666.3 415.2,667.5 420.0,668.9 424.8,671.8 429.5,674.0 434.3,676.7 439.0,678.7 443.8,677.7 448.6,678.1 453.3,678.3 458.1,678.2 462.9,679.0 467.6,679.4 472.4,680.2 477.1,681.6 481.9,682.1 486.7,680.8 491.4,678.7 496.2,677.2 501.0,674.9 505.7,673.4 510.5,674.7 515.2,674.0 520.0,673.8 524.8,673.5 529.5,673.5 534.3,673.0 539.1,672.3 543.8,670.3 548.6,667.7 553.4,666.3 558.1,665.1 562.9,663.4 567.6,663.2 572.4,663.4 577.2,663.2 581.9,663.5 586.7,662.6 591.5,663.5 596.2,663.4 601.0,663.3 605.7,663.2 610.5,664.9 615.3,666.6 620.0,668.9 624.8,669.1 629.6,670.3 634.3,669.7 639.1,668.3 643.8,667.4 648.6,666.1 653.4,666.1 658.1,665.1 662.9,664.2 667.7,663.6 672.4,662.7 677.2,660.6 681.9,658.2 686.7,654.0 691.5,651.5 696.2,648.3 701.0,645.9 705.8,644.1 710.5,642.2 715.3,640.2 720.1,638.3 724.8,636.5 729.6,634.4 734.3,632.0 739.1,630.4 743.9,629.5 748.6,629.1 753.4,629.3 758.2,629.4 762.9,628.4 767.7,627.7 772.4,626.5 777.2,625.6 782.0,625.6 786.7,624.8 791.5,624.4 796.3,624.5 801.0,624.9 805.8,624.9 810.5,623.4 815.3,622.5 820.1,622.0 824.8,621.0 829.6,620.8 834.4,622.4 839.1,624.1 843.9,625.1 848.6,625.3 853.4,626.2 858.2,627.2 862.9,629.0 867.7,631.2 872.5,633.0 877.2,635.2 882.0,636.8 886.7,639.0 891.5,642.1 896.3,646.5 901.0,647.9 905.8,649.1 910.6,650.5 915.3,650.9 920.1,650.9 924.9,651.2 929.6,651.8 934.4,651.4 939.1,651.8 943.9,652.3 948.7,652.5 953.4,653.2 958.2,653.5 963.0,652.9 967.7,653.8 972.5,655.4 977.2,657.4 982.0,658.9 986.8,660.2 991.5,660.4 996.3,659.8 1001.1,659.3 1005.8,658.5 1010.6,657.4 1015.3,657.3 1020.1,657.1 1024.9,655.8 1029.6,654.2 1034.4,652.8 1039.2,651.0 1043.9,648.6 1048.7,648.2 1053.4,647.9 1058.2,647.1 1063.0,645.0 1067.7,642.8 1072.5,640.7 1077.3,638.7 1082.0,635.9 1086.8,633.6 1091.5,632.2 1096.3,631.0 1101.1,629.7 1105.8,628.3 1110.6,627.8 1115.4,626.7 1120.1,625.1 1124.9,625.0 1129.7,626.2 1134.4,628.1 1139.2,629.7 1143.9,631.1 1148.7,633.5 1153.5,634.8 1158.2,636.2 1163.0,638.8 1167.8,641.9 1172.5,645.1 1177.3,647.0 1182.0,648.8 1186.8,651.8 1191.6,653.6 1196.3,654.1 1201.1,654.8 1205.9,655.7 1210.6,656.0 1215.4,656.0 1220.1,655.5 1224.9,654.1 1229.7,653.7 1234.4,652.5 1239.2,651.1 1244.0,650.5 1248.7,650.7 1253.5,651.4 1258.2,652.0 1263.0,654.0 1267.8,654.2 1272.5,654.9 1277.3,657.0 1282.1,659.4 1286.8,661.8 1291.6,665.2 1296.3,666.1 1301.1,667.6 1305.9,669.1 1310.6,670.7 1315.4,671.6 1320.2,670.8 1324.9,670.5 1329.7,670.0 1334.5,670.9 1339.2,671.5 1344.0,671.2 1348.7,669.8 1353.5,669.3 1358.3,667.7 1363.0,666.1 1367.8,663.4 1372.6,661.1 1377.3,658.9 1382.1,657.0 1386.8,655.1 1391.6,653.7 1396.4,651.8 1401.1,650.6 1405.9,649.2 1410.7,648.4 1415.4,649.0 1420.2,649.5 1424.9,650.4 1429.7,653.2 1434.5,655.6 1439.2,658.1 1444.0,659.1 1448.8,659.5 1453.5,660.5 1458.3,659.9 1463.0,659.1 1467.8,657.2 1472.6,655.3 1477.3,653.1 1482.1,649.5 1486.9,647.3 1491.6,645.1 1496.4,642.2 1501.1,642.0 1505.9,642.0 1510.7,642.0 1515.4,642.8 1520.2,644.0" fill="none" stroke="#fdd835" stroke-width="1.15" stroke-linejoin="round"/></g>
<text x="13.32" y="25" font-size="15.0" fill="#e3e3e3" font-weight="normal" textLength="107.76" lengthAdjust="spacingAndGlyphs" stroke="#e3e3e3" stroke-width="0.35">workwithshayan</text>
<text x="124.63" y="25" font-size="15.0" fill="#e3e3e3" font-weight="normal" textLength="52.38" lengthAdjust="spacingAndGlyphs" stroke="#e3e3e3" stroke-width="0.35">created</text>
<text x="181.92" y="25" font-size="15.0" fill="#e3e3e3" font-weight="normal" textLength="30.07" lengthAdjust="spacingAndGlyphs" stroke="#e3e3e3" stroke-width="0.35">with</text>
<text x="215.77" y="25" font-size="15.0" fill="#e3e3e3" font-weight="normal" textLength="118.06" lengthAdjust="spacingAndGlyphs" stroke="#e3e3e3" stroke-width="0.35">TradingView.com,</text>
<text x="338.19" y="25" font-size="15.0" fill="#e3e3e3" font-weight="normal" textLength="23.42" lengthAdjust="spacingAndGlyphs" stroke="#e3e3e3" stroke-width="0.35">Oct</text>
<text x="366.30" y="25" font-size="15.0" fill="#e3e3e3" font-weight="normal" textLength="21.92" lengthAdjust="spacingAndGlyphs" stroke="#e3e3e3" stroke-width="0.35">14,</text>
<text x="392.08" y="25" font-size="15.0" fill="#e3e3e3" font-weight="normal" textLength="31.82" lengthAdjust="spacingAndGlyphs" stroke="#e3e3e3" stroke-width="0.35">2025</text>
<text x="428.26" y="25" font-size="15.0" fill="#e3e3e3" font-weight="normal" textLength="36.67" lengthAdjust="spacingAndGlyphs" stroke="#e3e3e3" stroke-width="0.35">21:27</text>
<text x="469.09" y="25" font-size="15.0" fill="#e3e3e3" font-weight="normal" textLength="66.07" lengthAdjust="spacingAndGlyphs" stroke="#e3e3e3" stroke-width="0.35">UTC+5:30</text>
<text x="22.24" y="58.8" font-size="15.6" fill="#b2b5be" font-weight="normal" textLength="48.00" lengthAdjust="spacingAndGlyphs" stroke="#b2b5be" stroke-width="0.3">Bitcoin</text>
<text x="75.40" y="58.8" font-size="15.6" fill="#b2b5be" font-weight="normal" textLength="4.20" lengthAdjust="spacingAndGlyphs" stroke="#b2b5be" stroke-width="0.3">/</text>
<text x="86.88" y="58.8" font-size="15.6" fill="#b2b5be" font-weight="normal" textLength="60.26" lengthAdjust="spacingAndGlyphs" stroke="#b2b5be" stroke-width="0.3">TetherUS</text>
<text x="160.95" y="58.8" font-size="15.6" fill="#b2b5be" font-weight="normal" textLength="17.61" lengthAdjust="spacingAndGlyphs" stroke="#b2b5be" stroke-width="0.3">1D</text>
<text x="192.29" y="58.8" font-size="15.6" fill="#b2b5be" font-weight="normal" textLength="53.47" lengthAdjust="spacingAndGlyphs" stroke="#b2b5be" stroke-width="0.3">Binance</text>
<text x="254.01" y="58.8" font-size="15.6" fill="#b2b5be" font-weight="normal" textLength="11.39" lengthAdjust="spacingAndGlyphs" stroke="#b2b5be" stroke-width="0.3">O</text>
<text x="346.18" y="58.8" font-size="15.6" fill="#b2b5be" font-weight="normal" textLength="12.54" lengthAdjust="spacingAndGlyphs" stroke="#b2b5be" stroke-width="0.3">H</text>
<text x="439.15" y="58.8" font-size="15.6" fill="#b2b5be" font-weight="normal" textLength="9.84" lengthAdjust="spacingAndGlyphs" stroke="#b2b5be" stroke-width="0.3">L</text>
<text x="530.11" y="58.8" font-size="15.6" fill="#b2b5be" font-weight="normal" textLength="9.81" lengthAdjust="spacingAndGlyphs" stroke="#b2b5be" stroke-width="0.3">C</text>
<text x="151.46" y="57.599999999999994" font-size="15.6" fill="#b2b5be" font-weight="normal" textLength="4.90" lengthAdjust="spacingAndGlyphs" stroke="#b2b5be" stroke-width="0.3">·</text>
<text x="182.76" y="57.599999999999994" font-size="15.6" fill="#b2b5be" font-weight="normal" textLength="4.90" lengthAdjust="spacingAndGlyphs" stroke="#b2b5be" stroke-width="0.3">·</text>
<text x="265.08" y="58.8" font-size="15.6" fill="#f23645" font-weight="normal" textLength="73.49" lengthAdjust="spacingAndGlyphs" stroke="#f23645" stroke-width="0.3">115,166.00</text>
<text x="357.68" y="58.8" font-size="15.6" fill="#f23645" font-weight="normal" textLength="73.87" lengthAdjust="spacingAndGlyphs" stroke="#f23645" stroke-width="0.3">115,409.96</text>
<text x="448.48" y="58.8" font-size="15.6" fill="#f23645" font-weight="normal" textLength="73.59" lengthAdjust="spacingAndGlyphs" stroke="#f23645" stroke-width="0.3">109,866.00</text>
<text x="540.49" y="58.8" font-size="15.6" fill="#f23645" font-weight="normal" textLength="73.14" lengthAdjust="spacingAndGlyphs" stroke="#f23645" stroke-width="0.3">112,652.04</text>
<text x="622.79" y="58.8" font-size="15.6" fill="#f23645" font-weight="normal" textLength="64.85" lengthAdjust="spacingAndGlyphs" stroke="#f23645" stroke-width="0.3">−2,513.96</text>
<text x="691.20" y="58.8" font-size="15.6" fill="#f23645" font-weight="normal" textLength="59.09" lengthAdjust="spacingAndGlyphs" stroke="#f23645" stroke-width="0.3">(−2.18%)</text>
<text x="22.47" y="502.6" font-size="15.6" fill="#b2b5be" font-weight="normal" textLength="26.50" lengthAdjust="spacingAndGlyphs" stroke="#b2b5be" stroke-width="0.3">24H</text>
<text x="52.44" y="502.6" font-size="15.6" fill="#b2b5be" font-weight="normal" textLength="20.72" lengthAdjust="spacingAndGlyphs" stroke="#b2b5be" stroke-width="0.3">Vol</text>
<text x="77.76" y="502.6" font-size="15.6" fill="#b2b5be" font-weight="normal" textLength="45.48" lengthAdjust="spacingAndGlyphs" stroke="#b2b5be" stroke-width="0.3">(close)</text>
<text x="132.04" y="502.6" font-size="15.6" fill="#2962ff" font-weight="normal" textLength="28.40" lengthAdjust="spacingAndGlyphs" stroke="#2962ff" stroke-width="0.3">3.03</text>
<text x="162.84" y="502.6" font-size="15.6" fill="#2962ff" font-weight="normal" textLength="9.40" lengthAdjust="spacingAndGlyphs" stroke="#2962ff" stroke-width="0.3">B</text>
<text x="22.68" y="620.4" font-size="15.6" fill="#b2b5be" font-weight="normal" textLength="20.66" lengthAdjust="spacingAndGlyphs" stroke="#b2b5be" stroke-width="0.3">RSI</text>
<text x="47.64" y="620.4" font-size="15.6" fill="#b2b5be" font-weight="normal" textLength="26.65" lengthAdjust="spacingAndGlyphs" stroke="#b2b5be" stroke-width="0.3">(14,</text>
<text x="78.06" y="620.4" font-size="15.6" fill="#b2b5be" font-weight="normal" textLength="40.38" lengthAdjust="spacingAndGlyphs" stroke="#b2b5be" stroke-width="0.3">close)</text>
<text x="127.58" y="620.4" font-size="15.6" fill="#7e57c2" font-weight="normal" textLength="35.42" lengthAdjust="spacingAndGlyphs" stroke="#7e57c2" stroke-width="0.3">43.51</text>
<text x="173.19" y="620.4" font-size="15.6" fill="#fdd835" font-weight="normal" textLength="38.08" lengthAdjust="spacingAndGlyphs" stroke="#fdd835" stroke-width="0.3">58.36</text>
<path d="M13,553h3v32h-3z M18,555h3v30h-3z M23,548h3v37h-3z M27,490h3v95h-3z M32,546h3v39h-3z M37,572h3v13h-3z M42,572h3v13h-3z M46,539h3v46h-3z M51,542h3v43h-3z M56,552h3v33h-3z M61,559h3v26h-3z M66,565h3v20h-3z M70,572h3v13h-3z M75,565h3v20h-3z M80,547h3v38h-3z M85,558h3v27h-3z M89,540h3v45h-3z M94,537h3v48h-3z M99,533h3v52h-3z M104,565h3v20h-3z M108,568h3v17h-3z M113,558h3v27h-3z M118,565h3v20h-3z M123,572h3v13h-3z M127,567h3v18h-3z M132,563h3v22h-3z M137,578h3v7h-3z M142,573h3v12h-3z M147,562h3v23h-3z M151,569h3v16h-3z M156,576h3v9h-3z M161,566h3v19h-3z M166,572h3v13h-3z M170,577h3v8h-3z M175,578h3v7h-3z M180,563h3v22h-3z M185,557h3v28h-3z M189,557h3v28h-3z M194,557h3v28h-3z M199,559h3v26h-3z M204,579h3v6h-3z M208,577h3v8h-3z M213,551h3v34h-3z M218,561h3v24h-3z M223,559h3v26h-3z M227,561h3v24h-3z M232,550h3v35h-3z M237,563h3v22h-3z M242,546h3v39h-3z M247,504h3v81h-3z M251,544h3v41h-3z M256,564h3v21h-3z M261,536h3v49h-3z M266,563h3v22h-3z M270,576h3v9h-3z M275,576h3v9h-3z M280,541h3v44h-3z M285,565h3v20h-3z M289,564h3v21h-3z M294,567h3v18h-3z M299,565h3v20h-3z M304,574h3v11h-3z M308,555h3v30h-3z M313,522h3v63h-3z M318,550h3v35h-3z M323,562h3v23h-3z M328,565h3v20h-3z M332,558h3v27h-3z M337,576h3v9h-3z M342,573h3v12h-3z M347,567h3v18h-3z M351,569h3v16h-3z M356,560h3v25h-3z M361,568h3v17h-3z M366,569h3v16h-3z M370,578h3v7h-3z M375,578h3v7h-3z M380,571h3v14h-3z M385,565h3v20h-3z M389,571h3v14h-3z M394,570h3v15h-3z M399,557h3v28h-3z M404,575h3v10h-3z M408,575h3v10h-3z M413,559h3v26h-3z M418,525h3v60h-3z M423,542h3v43h-3z M428,553h3v32h-3z M432,526h3v59h-3z M437,566h3v19h-3z M442,542h3v43h-3z M447,539h3v46h-3z M451,544h3v41h-3z M456,555h3v30h-3z M461,558h3v27h-3z M466,541h3v44h-3z M470,575h3v10h-3z M475,566h3v19h-3z M480,552h3v33h-3z M485,551h3v34h-3z M489,562h3v23h-3z M494,565h3v20h-3z M499,565h3v20h-3z M504,576h3v9h-3z M508,572h3v13h-3z M513,572h3v13h-3z M518,572h3v13h-3z M523,564h3v21h-3z M528,568h3v17h-3z M532,576h3v9h-3z M537,580h3v5h-3z M542,578h3v7h-3z M547,562h3v23h-3z M551,567h3v18h-3z M556,571h3v14h-3z M561,572h3v13h-3z M566,565h3v20h-3z M570,576h3v9h-3z M575,577h3v8h-3z M580,570h3v15h-3z M585,570h3v15h-3z M589,555h3v30h-3z M594,565h3v20h-3z M599,561h3v24h-3z M604,578h3v7h-3z M609,565h3v20h-3z M613,532h3v53h-3z M618,561h3v24h-3z M623,533h3v52h-3z M628,561h3v24h-3z M632,560h3v25h-3z M637,571h3v14h-3z M642,567h3v18h-3z M647,564h3v21h-3z M651,569h3v16h-3z M656,569h3v16h-3z M661,574h3v11h-3z M666,580h3v5h-3z M670,577h3v8h-3z M675,579h3v6h-3z M680,561h3v24h-3z M685,550h3v35h-3z M689,562h3v23h-3z M694,569h3v16h-3z M699,562h3v23h-3z M704,577h3v8h-3z M709,575h3v10h-3z M713,566h3v19h-3z M718,571h3v14h-3z M723,570h3v15h-3z M728,567h3v18h-3z M732,572h3v13h-3z M737,576h3v9h-3z M742,575h3v10h-3z M747,570h3v15h-3z M751,571h3v14h-3z M756,571h3v14h-3z M761,554h3v31h-3z M766,560h3v25h-3z M770,571h3v14h-3z M775,568h3v17h-3z M780,557h3v28h-3z M785,566h3v19h-3z M789,570h3v15h-3z M794,569h3v16h-3z M799,570h3v15h-3z M804,574h3v11h-3z M809,565h3v20h-3z M813,557h3v28h-3z M818,563h3v22h-3z M823,542h3v43h-3z M828,554h3v31h-3z M832,555h3v30h-3z M837,569h3v16h-3z M842,568h3v17h-3z M847,571h3v14h-3z M851,564h3v21h-3z M856,570h3v15h-3z M861,566h3v19h-3z M866,563h3v22h-3z M870,574h3v11h-3z M875,576h3v9h-3z M880,572h3v13h-3z M885,572h3v13h-3z M890,572h3v13h-3z M894,565h3v20h-3z M899,570h3v15h-3z M904,577h3v8h-3z M909,577h3v8h-3z M913,566h3v19h-3z M918,568h3v17h-3z M923,572h3v13h-3z M928,568h3v17h-3z M932,561h3v24h-3z M937,576h3v9h-3z M942,578h3v7h-3z M947,571h3v14h-3z M951,568h3v17h-3z M956,572h3v13h-3z M961,578h3v7h-3z M966,570h3v15h-3z M970,575h3v10h-3z M975,560h3v25h-3z M980,560h3v25h-3z M985,571h3v14h-3z M990,569h3v16h-3z M994,575h3v10h-3z M999,573h3v12h-3z M1004,581h3v4h-3z M1009,578h3v7h-3z M1013,575h3v10h-3z M1018,575h3v10h-3z M1023,568h3v17h-3z M1028,572h3v13h-3z M1032,573h3v12h-3z M1037,581h3v4h-3z M1042,578h3v7h-3z M1047,576h3v9h-3z M1051,576h3v9h-3z M1056,568h3v17h-3z M1061,560h3v25h-3z M1066,558h3v27h-3z M1070,576h3v9h-3z M1075,575h3v10h-3z M1080,556h3v29h-3z M1085,552h3v33h-3z M1090,567h3v18h-3z M1094,568h3v17h-3z M1099,564h3v21h-3z M1104,578h3v7h-3z M1109,571h3v14h-3z M1113,567h3v18h-3z M1118,563h3v22h-3z M1123,570h3v15h-3z M1128,568h3v17h-3z M1132,546h3v39h-3z M1137,577h3v8h-3z M1142,575h3v10h-3z M1147,570h3v15h-3z M1151,569h3v16h-3z M1156,569h3v16h-3z M1161,567h3v18h-3z M1166,560h3v25h-3z M1171,573h3v12h-3z M1175,577h3v8h-3z M1180,575h3v10h-3z M1185,573h3v12h-3z M1190,575h3v10h-3z M1194,571h3v14h-3z M1199,574h3v11h-3z M1204,575h3v10h-3z M1209,570h3v15h-3z M1213,557h3v28h-3z M1218,567h3v18h-3z M1223,560h3v25h-3z M1228,556h3v29h-3z M1232,571h3v14h-3z M1237,578h3v7h-3z M1242,578h3v7h-3z M1247,567h3v18h-3z M1251,567h3v18h-3z M1256,569h3v16h-3z M1261,574h3v11h-3z M1266,562h3v23h-3z M1271,573h3v12h-3z M1275,564h3v21h-3z M1280,560h3v25h-3z M1285,567h3v18h-3z M1290,572h3v13h-3z M1294,574h3v11h-3z M1299,563h3v22h-3z M1304,574h3v11h-3z M1309,576h3v9h-3z M1313,569h3v16h-3z M1318,567h3v18h-3z M1323,573h3v12h-3z M1328,573h3v12h-3z M1332,564h3v21h-3z M1337,580h3v5h-3z M1342,579h3v6h-3z M1347,573h3v12h-3z M1352,570h3v15h-3z M1356,567h3v18h-3z M1361,571h3v14h-3z M1366,569h3v16h-3z M1371,576h3v9h-3z M1375,578h3v7h-3z M1380,571h3v14h-3z M1385,574h3v11h-3z M1390,568h3v17h-3z M1394,573h3v12h-3z M1399,575h3v10h-3z M1404,580h3v5h-3z M1409,580h3v5h-3z M1413,564h3v21h-3z M1418,573h3v12h-3z M1423,572h3v13h-3z M1428,564h3v21h-3z M1432,571h3v14h-3z M1437,579h3v6h-3z M1442,577h3v8h-3z M1447,569h3v16h-3z M1452,570h3v15h-3z M1456,564h3v21h-3z M1461,564h3v21h-3z M1466,559h3v26h-3z M1471,576h3v9h-3z M1475,561h3v24h-3z M1480,564h3v21h-3z M1485,562h3v23h-3z M1490,567h3v18h-3z M1494,562h3v23h-3z M1499,522h3v63h-3z M1504,550h3v35h-3z M1509,553h3v32h-3z M1513,562h3v23h-3z M1518,558h3v27h-3z" fill="#2962ff"/>
<text x="1714.86" y="144" font-size="15.6" fill="#b2b5be" font-weight="normal" textLength="75.03" lengthAdjust="spacingAndGlyphs" stroke="#b2b5be" stroke-width="0.3">140,000.00</text>
<text x="1714.86" y="218" font-size="15.6" fill="#b2b5be" font-weight="normal" textLength="75.03" lengthAdjust="spacingAndGlyphs" stroke="#b2b5be" stroke-width="0.3">120,000.00</text>
<text x="1714.86" y="292.0" font-size="15.6" fill="#b2b5be" font-weight="normal" textLength="75.03" lengthAdjust="spacingAndGlyphs" stroke="#b2b5be" stroke-width="0.3">100,000.00</text>
<text x="1714.55" y="367.0" font-size="15.6" fill="#b2b5be" font-weight="normal" textLength="67.04" lengthAdjust="spacingAndGlyphs" stroke="#b2b5be" stroke-width="0.3">80,000.00</text>
<text x="1714.43" y="441" font-size="15.6" fill="#b2b5be" font-weight="normal" textLength="67.16" lengthAdjust="spacingAndGlyphs" stroke="#b2b5be" stroke-width="0.3">60,000.00</text>
<rect x="1708.5" y="38.5" width="89.5" height="33" rx="6" fill="#0f0f0f" stroke="#3a3a3a" stroke-width="1" shape-rendering="geometricPrecision"/>
<text x="1719.28" y="60" font-size="16.2" fill="#d6d6d6" font-weight="normal" textLength="36.02" lengthAdjust="spacingAndGlyphs" stroke="#d6d6d6" stroke-width="0.3">USDT</text>
<path d="M1635,231h69v21h-69a2,2 0 0 1 -2,-2v-17a2,2 0 0 1 2,-2z" fill="#f23645" shape-rendering="geometricPrecision"/>
<path d="M1705,231h90a2,2 0 0 1 2,2v17a2,2 0 0 1 -2,2h-90z" fill="#f23645" shape-rendering="geometricPrecision"/>
<text x="1637.93" y="246.8" font-size="15.6" fill="#ffffff" font-weight="normal" textLength="61.57" lengthAdjust="spacingAndGlyphs" stroke="#ffffff" stroke-width="0.3">BTCUSDT</text>
<text x="1716.07" y="246.8" font-size="15.6" fill="#ffffff" font-weight="normal" textLength="74.57" lengthAdjust="spacingAndGlyphs" stroke="#ffffff" stroke-width="0.3">112,652.04</text>
<text x="1714.57" y="504" font-size="15.6" fill="#b2b5be" font-weight="normal" textLength="16.51" lengthAdjust="spacingAndGlyphs" stroke="#b2b5be" stroke-width="0.3">10</text>
<text x="1732.34" y="504" font-size="15.6" fill="#b2b5be" font-weight="normal" textLength="9.40" lengthAdjust="spacingAndGlyphs" stroke="#b2b5be" stroke-width="0.3">B</text>
<text x="1715.37" y="547" font-size="15.6" fill="#b2b5be" font-weight="normal" textLength="8.80" lengthAdjust="spacingAndGlyphs" stroke="#b2b5be" stroke-width="0.3">5</text>
<text x="1725.16" y="547" font-size="15.6" fill="#b2b5be" font-weight="normal" textLength="9.27" lengthAdjust="spacingAndGlyphs" stroke="#b2b5be" stroke-width="0.3">B</text>
<text x="1715.40" y="589.1" font-size="15.6" fill="#b2b5be" font-weight="normal" textLength="8.49" lengthAdjust="spacingAndGlyphs" stroke="#b2b5be" stroke-width="0.3">0</text>
<path d="M1705,548h55a2,2 0 0 1 2,2v17a2,2 0 0 1 -2,2h-55z" fill="#2962ff" shape-rendering="geometricPrecision"/>
<text x="1715.44" y="563.3" font-size="15.6" fill="#ffffff" font-weight="normal" textLength="28.71" lengthAdjust="spacingAndGlyphs" stroke="#ffffff" stroke-width="0.3">3.03</text>
<text x="1747.34" y="563.3" font-size="15.6" fill="#ffffff" font-weight="normal" textLength="9.40" lengthAdjust="spacingAndGlyphs" stroke="#ffffff" stroke-width="0.3">B</text>
<text x="1714.62" y="618.4" font-size="15.6" fill="#b2b5be" font-weight="normal" textLength="37.97" lengthAdjust="spacingAndGlyphs" stroke="#b2b5be" stroke-width="0.3">75.00</text>
<text x="1714.80" y="663" font-size="15.6" fill="#b2b5be" font-weight="normal" textLength="37.79" lengthAdjust="spacingAndGlyphs" stroke="#b2b5be" stroke-width="0.3">50.00</text>
<text x="1714.64" y="706.3" font-size="15.6" fill="#b2b5be" font-weight="normal" textLength="37.96" lengthAdjust="spacingAndGlyphs" stroke="#b2b5be" stroke-width="0.3">25.00</text>
<path d="M1705,633h52a2,2 0 0 1 2,2v17a2,2 0 0 1 -2,2h-52z" fill="#fdd835" shape-rendering="geometricPrecision"/>
<text x="1715.40" y="648.4" font-size="15.6" fill="#131722" font-weight="normal" textLength="37.77" lengthAdjust="spacingAndGlyphs" stroke="#131722" stroke-width="0.3">58.36</text>
<path d="M1705,659h52a2,2 0 0 1 2,2v17a2,2 0 0 1 -2,2h-52z" fill="#7e57c2" shape-rendering="geometricPrecision"/>
<text x="1715.66" y="674.6" font-size="15.6" fill="#ffffff" font-weight="normal" textLength="37.58" lengthAdjust="spacingAndGlyphs" stroke="#ffffff" stroke-width="0.3">43.51</text>
<text x="140.25" y="737.2" font-size="15.8" fill="#d1d4dc" font-weight="bold" textLength="34.98" lengthAdjust="spacingAndGlyphs">2025</text>
<text x="291.98" y="737.0" font-size="15.2" fill="#b2b5be" font-weight="normal" textLength="25.65" lengthAdjust="spacingAndGlyphs" stroke="#b2b5be" stroke-width="0.3">Feb</text>
<text x="424.76" y="737.0" font-size="15.2" fill="#b2b5be" font-weight="normal" textLength="26.09" lengthAdjust="spacingAndGlyphs" stroke="#b2b5be" stroke-width="0.3">Mar</text>
<text x="574.97" y="737.0" font-size="15.2" fill="#b2b5be" font-weight="normal" textLength="23.28" lengthAdjust="spacingAndGlyphs" stroke="#b2b5be" stroke-width="0.3">Apr</text>
<text x="714.40" y="737.0" font-size="15.2" fill="#b2b5be" font-weight="normal" textLength="27.63" lengthAdjust="spacingAndGlyphs" stroke="#b2b5be" stroke-width="0.3">May</text>
<text x="864.76" y="737.0" font-size="15.2" fill="#b2b5be" font-weight="normal" textLength="24.84" lengthAdjust="spacingAndGlyphs" stroke="#b2b5be" stroke-width="0.3">Jun</text>
<text x="1009.65" y="737.0" font-size="15.2" fill="#b2b5be" font-weight="normal" textLength="20.42" lengthAdjust="spacingAndGlyphs" stroke="#b2b5be" stroke-width="0.3">Jul</text>
<text x="1154.97" y="737.0" font-size="15.2" fill="#b2b5be" font-weight="normal" textLength="25.66" lengthAdjust="spacingAndGlyphs" stroke="#b2b5be" stroke-width="0.3">Aug</text>
<text x="1301.85" y="737.0" font-size="15.2" fill="#b2b5be" font-weight="normal" textLength="25.45" lengthAdjust="spacingAndGlyphs" stroke="#b2b5be" stroke-width="0.3">Sep</text>
<text x="1445.16" y="737.0" font-size="15.2" fill="#b2b5be" font-weight="normal" textLength="24.36" lengthAdjust="spacingAndGlyphs" stroke="#b2b5be" stroke-width="0.3">Oct</text>
<text x="1591.70" y="737.0" font-size="15.2" fill="#b2b5be" font-weight="normal" textLength="25.95" lengthAdjust="spacingAndGlyphs" stroke="#b2b5be" stroke-width="0.3">Nov</text>
<g fill="#e0e0e0" shape-rendering="geometricPrecision"><path d="M15.3,776.2h15.3v19h-7.9v-11.2h-7.4z"/><circle cx="36.8" cy="780.2" r="3.65"/><path d="M44.4,776.2H53L46.1,795.3H36.6z"/></g>
<text x="61.61" y="795.1" font-size="27.2" fill="#e0e0e0" font-weight="bold" textLength="151.14" lengthAdjust="spacingAndGlyphs">TradingView</text>
</svg>
</body></html>
